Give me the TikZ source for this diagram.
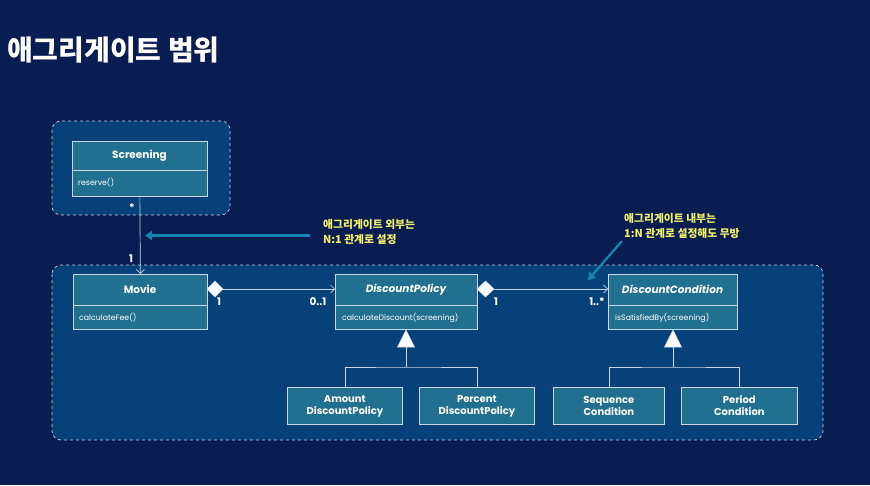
\documentclass[tikz,border=0pt]{standalone}
\usepackage{fontspec}
\setmainfont{Poppins}
\newfontfamily\kr{Noto Sans CJK KR}
\usetikzlibrary{arrows.meta}
\definecolor{bgnavy}{HTML}{0A1D52}
\definecolor{groupfill}{HTML}{07417A}
\definecolor{classfill}{HTML}{21708F}
\definecolor{classline}{HTML}{C9D6E4}
\definecolor{noteyellow}{HTML}{F2F26A}
\definecolor{noteteal}{HTML}{1386B2}
\tikzset{
  x=1pt, y=-1pt,
  group/.style={draw=classline, dashed, fill=groupfill, rounded corners=9pt, line width=0.7pt},
  classbox/.style={draw=classline, fill=classfill, line width=0.7pt, anchor=north west, inner sep=0pt},
  divider/.style={draw=classline, line width=0.7pt},
  ctitle/.style={text=white, font=\bfseries\fontsize{10.5}{12}\selectfont, inner sep=0pt},
  atitle/.style={ctitle, font=\bfseries\itshape\fontsize{10.5}{12}\selectfont},
  stitle/.style={ctitle, align=center, font=\bfseries\fontsize{10}{12}\selectfont},
  cmethod/.style={text=white, font=\fontsize{7.8}{9}\selectfont, inner sep=0pt, anchor=west},
  mult/.style={text=white, font=\bfseries\fontsize{10.5}{12}\selectfont, inner sep=0pt},
  note/.style={text=noteyellow, font=\kr\bfseries\fontsize{10.8}{15}\selectfont, align=left, anchor=north west, inner sep=0pt},
  assoc/.style={draw=classline, line width=0.7pt, -{Straight Barb[length=4pt,width=8pt]}},
  gen/.style={draw=classline, line width=0.7pt},
  diamondhead/.style={draw=classline, fill=white, line width=0.5pt},
  triangle/.style={draw=classline, fill=white, line width=0.6pt},
  pointer/.style={draw=noteteal, line width=2.2pt, -{Triangle[length=7pt,width=9pt]}},
}
\begin{document}
\begin{tikzpicture}
\fill[bgnavy] (0,0) rectangle (870,485);
\useasboundingbox (0,0) rectangle (870,485);

% title
\node[anchor=west, text=white, font=\kr\bfseries\fontsize{28}{32}\selectfont, inner sep=0pt] (title) at (7,50) {애그리게이트 범위};

% aggregate boundaries
\draw[group] (52,121) rectangle (230,215);
\draw[group] (52,265) rectangle (823,440);

% Screening
\node[classbox, minimum width=135pt, minimum height=55pt] (scr) at (72,141) {};
\draw[divider] (72,170) -- (207,170);
\node[ctitle] (scrT) at (139.5,155.5) {Screening};
\node[cmethod] (scrM) at (78,183) {reserve()};

% Movie
\node[classbox, minimum width=134pt, minimum height=55pt] (mov) at (73,274) {};
\draw[divider] (73,305) -- (207,305);
\node[ctitle] (movT) at (140,289.5) {Movie};
\node[cmethod] (movM) at (79,318) {calculateFee()};

% DiscountPolicy
\node[classbox, minimum width=142pt, minimum height=55pt] (dp) at (335,274) {};
\draw[divider] (335,305) -- (477,305);
\node[atitle] (dpT) at (406,289.5) {DiscountPolicy};
\node[cmethod] (dpM) at (342,318) {calculateDiscount(screening)};

% DiscountCondition
\node[classbox, minimum width=129pt, minimum height=55pt] (dc) at (608,274) {};
\draw[divider] (608,305) -- (737,305);
\node[atitle] (dcT) at (672.5,289.5) {DiscountCondition};
\node[cmethod] (dcM) at (615,318) {isSatisfiedBy(screening)};

% subclasses
\node[classbox, minimum width=115pt, minimum height=37pt] (amt) at (287,387) {};
\node[stitle] (amtT) at (amt.center) {Amount\\DiscountPolicy};
\node[classbox, minimum width=115pt, minimum height=37pt] (pct) at (419,387) {};
\node[stitle] (pctT) at (pct.center) {Percent\\DiscountPolicy};
\node[classbox, minimum width=111pt, minimum height=37pt] (seq) at (553,387) {};
\node[stitle] (seqT) at (seq.center) {Sequence\\Condition};
\node[classbox, minimum width=116pt, minimum height=37pt] (per) at (681,387) {};
\node[stitle] (perT) at (per.center) {Period\\Condition};

% Screening -> Movie
\draw[assoc] (scr.south) -- (mov.north);
\node[mult] (m1) at (132,208) {*};
\node[mult] (m2) at (131,259) {1};

% row of the composition links
\coordinate (row) at (0,289);

% Movie <>-> DiscountPolicy
\coordinate (d1a) at (207,289);
\coordinate (d1b) at (223,289);
\draw[diamondhead] (d1a) -- (215,281) -- (d1b) -- (215,297) -- cycle;
\draw[assoc] (d1b) -- (dp.west |- row);
\node[mult] (m3) at (219,302) {1};
\node[mult] (m4) at (318,302) {0..1};

% DiscountPolicy <>-> DiscountCondition
\coordinate (d2a) at (477,289);
\coordinate (d2b) at (494,289);
\draw[diamondhead] (d2a) -- (485.5,281) -- (d2b) -- (485.5,297) -- cycle;
\draw[assoc] (d2b) -- (dc.west |- row);
\node[mult] (m5) at (496,302) {1};
\node[mult] (m6) at (597,302) {1..*};

% generalisation
\coordinate (dpJ) at (406,367);
\draw[gen] (dpJ) -- (406,347);
\draw[gen] (amt.north -| 345,0) |- (dpJ) -| (pct.north -| 477,0);
\draw[triangle] (406,330) -- (414.5,347) -- (397.5,347) -- cycle;
\coordinate (dcJ) at (673,367);
\draw[gen] (dcJ) -- (673,347);
\draw[gen] (seq.north -| 609,0) |- (dcJ) -| (per.north -| 739,0);
\draw[triangle] (673,330) -- (681.5,347) -- (664.5,347) -- cycle;

% notes
\coordinate (n1s) at (310,235.5);
\coordinate (n1e) at (145,235.5);
\draw[pointer] (n1s) -- (n1e);
\node[note] (n1) at (323,219) {애그리게이트 외부는\\N:1 관계로 설정};
\coordinate (n2s) at (622,241);
\coordinate (n2e) at (588,280);
\draw[pointer] (n2s) -- (n2e);
\node[note] (n2) at (624,213) {애그리게이트 내부는\\1:N 관계로 설정해도 무방};
\end{tikzpicture}
\end{document}
